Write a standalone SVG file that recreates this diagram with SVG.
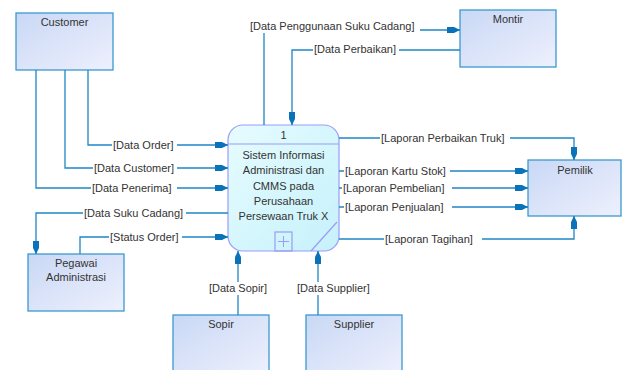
<svg xmlns="http://www.w3.org/2000/svg" width="622" height="370" viewBox="0 0 622 370">
  <style>
    .ent { fill: url(#entFill); stroke: #3a9ad0; stroke-width: 1.3; }
    .proc { fill: url(#procFill); stroke: #9a9cf6; stroke-width: 1.2; }
    .t { font-family: "Liberation Sans", Arial, sans-serif; font-size: 11px; fill: #333; }
    .c { text-anchor: middle; }
    .flow { fill: none; stroke: #1f86c6; stroke-width: 1.3; }
    .lbl { font-family: "Liberation Sans", Arial, sans-serif; font-size: 11px; fill: #333; }
    .bg { fill: #fff; }
  </style>
  <defs>
    <linearGradient id="entFill" x1="0" y1="0" x2="1" y2="1">
      <stop offset="0" stop-color="#c9d8f5"/>
      <stop offset="1" stop-color="#eef0fd"/>
    </linearGradient>
    <linearGradient id="procFill" x1="0" y1="0" x2="1" y2="1">
      <stop offset="0" stop-color="#e6fcff"/>
      <stop offset="1" stop-color="#c6f1fb"/>
    </linearGradient>
    <marker id="arr" markerUnits="userSpaceOnUse" markerWidth="14" markerHeight="10" refX="13" refY="5" orient="auto">
      <path d="M0,2 L7,2 L13,5 L7,8 L0,8 Z" fill="#0a72b9"/>
    </marker>
  </defs>

  <!-- external entities -->
  <g id="customer">
    <rect class="ent" x="16" y="13" width="97" height="57"/>
    <text class="t c" x="64.5" y="26">Customer</text>
  </g>
  <g id="montir">
    <rect class="ent" x="460" y="10" width="96" height="57"/>
    <text class="t c" x="508" y="23">Montir</text>
  </g>
  <g id="pemilik">
    <rect class="ent" x="528" y="160" width="93" height="56"/>
    <text class="t c" x="575" y="174">Pemilik</text>
  </g>
  <g id="pegawai">
    <rect class="ent" x="28" y="254" width="96" height="57"/>
    <text class="t c" x="76" y="267">Pegawai</text>
    <text class="t c" x="76" y="281">Administrasi</text>
  </g>
  <g id="sopir">
    <rect class="ent" x="173" y="315" width="96" height="60"/>
    <text class="t c" x="221" y="328">Sopir</text>
  </g>
  <g id="supplier">
    <rect class="ent" x="306" y="315" width="96" height="60"/>
    <text class="t c" x="354" y="328">Supplier</text>
  </g>

  <!-- process 1 -->
  <g id="process1">
    <rect class="proc" x="228" y="125" width="111" height="126" rx="15" ry="15"/>
    <line x1="228" y1="144" x2="339" y2="144" stroke="#9a9cf6" stroke-width="1.2"/>
    <text class="t c" x="283.5" y="139">1</text>
    <text class="t c" x="283.5" y="159">Sistem Informasi</text>
    <text class="t c" x="283.5" y="174">Administrasi dan</text>
    <text class="t c" x="283.5" y="190">CMMS pada</text>
    <text class="t c" x="283.5" y="205">Perusahaan</text>
    <text class="t c" x="283.5" y="220">Persewaan Truk X</text>
    <rect x="275" y="232" width="17" height="19" fill="none" stroke="#9a9cf6" stroke-width="1.2"/>
    <line x1="283.5" y1="236" x2="283.5" y2="247" stroke="#9a9cf6" stroke-width="1"/>
    <line x1="278" y1="241.5" x2="289" y2="241.5" stroke="#9a9cf6" stroke-width="1"/>
    <line x1="337" y1="222" x2="311" y2="251" stroke="#9a9cf6" stroke-width="1.2"/>
  </g>

  <!-- data flows -->
  <g id="connectors">
    <path class="flow" d="M264,125 V30 H460" marker-end="url(#arr)"/>
    <path class="flow" d="M460,50 H292 V125" marker-end="url(#arr)"/>
    <path class="flow" d="M88,70 V145 H228" marker-end="url(#arr)"/>
    <path class="flow" d="M65,70 V168 H228" marker-end="url(#arr)"/>
    <path class="flow" d="M36,70 V188 H228" marker-end="url(#arr)"/>
    <path class="flow" d="M228,213 H36 V254" marker-end="url(#arr)"/>
    <path class="flow" d="M80,254 V237 H228" marker-end="url(#arr)"/>
    <path class="flow" d="M238,315 V251" marker-end="url(#arr)"/>
    <path class="flow" d="M318,315 V251" marker-end="url(#arr)"/>
    <path class="flow" d="M339,138 H574 V160" marker-end="url(#arr)"/>
    <path class="flow" d="M339,171 H528" marker-end="url(#arr)"/>
    <path class="flow" d="M339,188 H528" marker-end="url(#arr)"/>
    <path class="flow" d="M339,207 H528" marker-end="url(#arr)"/>
    <path class="flow" d="M339,239 H574 V216" marker-end="url(#arr)"/>

    <!-- flow labels -->
    <rect class="bg" x="249" y="20" width="171" height="13"/>
    <text class="lbl" x="250" y="30">[Data Penggunaan Suku Cadang]</text>
    <rect class="bg" x="313" y="43" width="86" height="13"/>
    <text class="lbl" x="314" y="53">[Data Perbaikan]</text>
    <rect class="bg" x="112" y="139" width="65" height="13"/>
    <text class="lbl" x="113" y="149">[Data Order]</text>
    <rect class="bg" x="93" y="162" width="84" height="13"/>
    <text class="lbl" x="94" y="172">[Data Customer]</text>
    <rect class="bg" x="91" y="182" width="86" height="13"/>
    <text class="lbl" x="92" y="192">[Data Penerima]</text>
    <rect class="bg" x="83" y="207" width="103" height="13"/>
    <text class="lbl" x="84" y="217">[Data Suku Cadang]</text>
    <rect class="bg" x="109" y="231" width="73" height="13"/>
    <text class="lbl" x="110" y="241">[Status Order]</text>
    <rect class="bg" x="208" y="282" width="64" height="13"/>
    <text class="lbl" x="209" y="292">[Data Sopir]</text>
    <rect class="bg" x="296" y="282" width="79" height="13"/>
    <text class="lbl" x="297" y="292">[Data Supplier]</text>
    <rect class="bg" x="380" y="132" width="130" height="13"/>
    <text class="lbl" x="381" y="142">[Laporan Perbaikan Truk]</text>
    <rect class="bg" x="344" y="165" width="106" height="13"/>
    <text class="lbl" x="345" y="175">[Laporan Kartu Stok]</text>
    <rect class="bg" x="342" y="182" width="110" height="13"/>
    <text class="lbl" x="343" y="192">[Laporan Pembelian]</text>
    <rect class="bg" x="344" y="201" width="108" height="13"/>
    <text class="lbl" x="345" y="211">[Laporan Penjualan]</text>
    <rect class="bg" x="384" y="233" width="98" height="13"/>
    <text class="lbl" x="385" y="243">[Laporan Tagihan]</text>
  </g>
</svg>
